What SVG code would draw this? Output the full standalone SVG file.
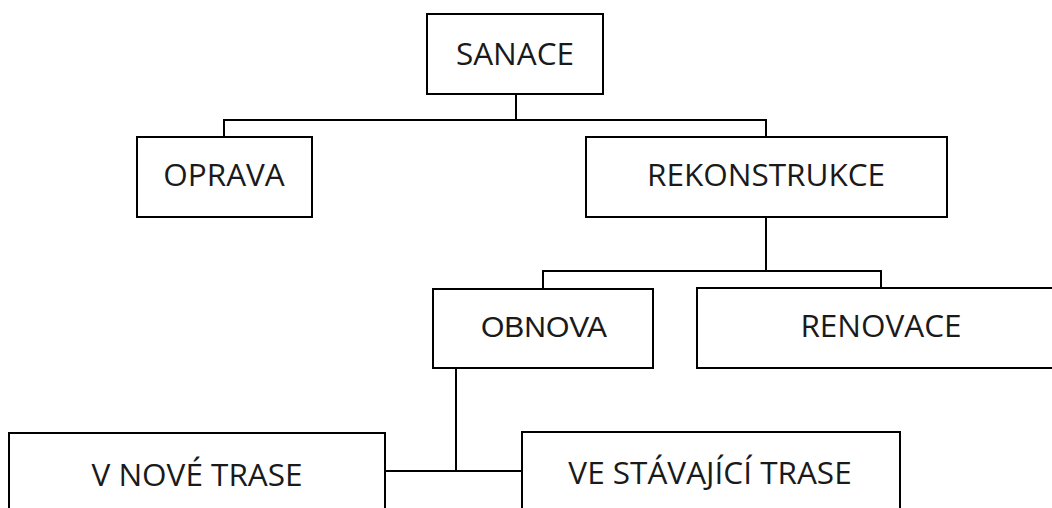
<svg xmlns="http://www.w3.org/2000/svg" width="1052" height="508" viewBox="0 0 1052 508">
<style>
.box{fill:#fff;stroke:#000;stroke-width:2}
.lbl{font-family:"Open Sans","Noto Sans",sans-serif;font-size:31.5px;fill:#1a1a1a;text-anchor:middle}
.arial{font-family:"Liberation Sans",Arial,sans-serif;font-size:30px;fill:#1a1a1a;text-anchor:middle}
.con{fill:none;stroke:#000;stroke-width:2}
</style>
<rect width="1052" height="508" fill="#fff"/>
<g id="connectors">
<path class="con" d="M516 94V120M224 137V120H766V137M766 217V271M543 289V271H881V288M456 368V471M385 471H522"/>
</g>
<g id="sanace"><rect class="box" x="427" y="14" width="176" height="80"/><text class="lbl" x="515" y="65">SANACE</text></g>
<g id="oprava"><rect class="box" x="137" y="137" width="175" height="80"/><text class="lbl" x="224" y="186">OPRAVA</text></g>
<g id="rekonstrukce"><rect class="box" x="586" y="137" width="361" height="80"/><text class="lbl" x="766" y="186">REKONSTRUKCE</text></g>
<g id="obnova"><rect class="box" x="433" y="289" width="220" height="79"/><text class="arial" x="544" y="337">OBNOVA</text></g>
<g id="renovace"><rect class="box" x="697" y="288" width="368" height="80"/><text class="lbl" x="881" y="337">RENOVACE</text></g>
<g id="v-nove-trase"><rect class="box" x="9" y="433" width="376" height="90"/><text class="lbl" x="197" y="486">V NOVÉ TRASE</text></g>
<g id="ve-stavajici-trase"><rect class="box" x="522" y="432" width="378" height="90"/><text class="lbl" x="710" y="484">VE STÁVAJÍCÍ TRASE</text></g>
</svg>
